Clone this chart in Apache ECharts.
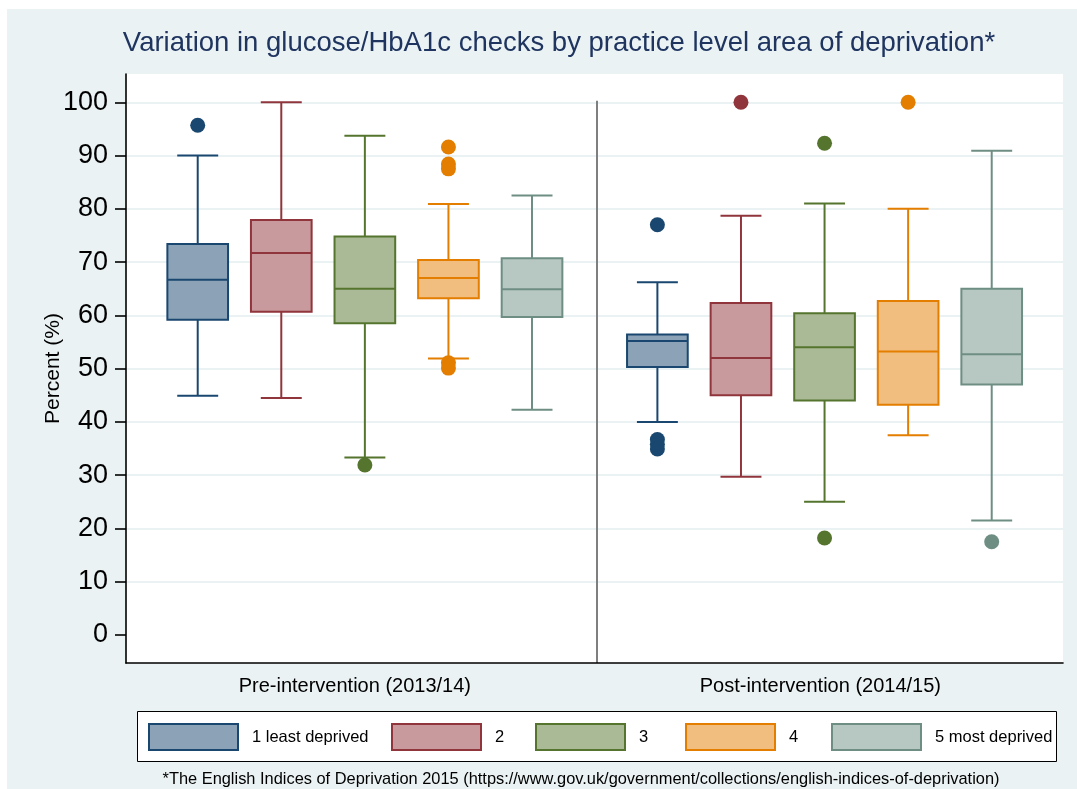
<!DOCTYPE html>
<html>
<head>
<meta charset="utf-8">
<script src="https://cdn.jsdelivr.net/npm/echarts@6/dist/echarts.min.js"></script>
<style>
  html, body { margin: 0; padding: 0; background: #fff; }
  #boxChart { width: 1077px; height: 789px; }
</style>
</head>
<body>
<div id="boxChart"></div>
<script>
// periods on the x axis
var periods = ['Pre-intervention (2013/14)', 'Post-intervention (2014/15)'];
var levels = ['1 least deprived', '2', '3', '4', '5 most deprived'];
var yTicks = [0, 10, 20, 30, 40, 50, 60, 70, 80, 90, 100];

// [lower whisker, Q1, median, Q3, upper whisker] -> pre, post
var level1Box = [[44.9, 59.2, 66.7, 73.4, 90.0], [40.0, 50.3, 55.2, 56.4, 66.2]];
var level2Box = [[44.5, 60.7, 71.7, 77.9, 100.0], [29.7, 45.0, 52.0, 62.3, 78.7]];
var level3Box = [[33.3, 58.5, 65.0, 74.8, 93.7], [25.0, 44.0, 54.0, 60.4, 81.0]];
var level4Box = [[51.9, 63.2, 67.0, 70.4, 80.9], [37.5, 43.2, 53.2, 62.7, 80.0]];
var level5Box = [[42.3, 59.7, 64.9, 70.7, 82.5], [21.5, 47.0, 52.7, 65.0, 90.9]];

// outside values -> pre, post
var level1Out = [[95.7], [77.0, 36.7, 35.8, 34.9]];
var level2Out = [[], [100.0]];
var level3Out = [[31.9], [92.3, 18.2]];
var level4Out = [[91.6, 88.4, 87.5, 51.1, 50.1], [100.0]];
var level5Out = [[], [17.5]];

var boxes = [level1Box, level2Box, level3Box, level4Box, level5Box];
var outs = [level1Out, level2Out, level3Out, level4Out, level5Out];
var lineColors = ['#1a476f', '#90353b', '#55752f', '#e37e00', '#6e8e84'];
var fillColors = ['#8ca3b7', '#c89a9d', '#aaba97', '#f1be80', '#b7c7c2'];
var groupStart = [1, 6.5];
var labelPos = [2.88, 8.45];
var legendLeft = [148, 391, 535, 685, 831];

var sans = "'Liberation Sans', Arial, sans-serif";

function renderBox(params, api) {
  var x = api.value(0);
  var lo = api.coord([x, api.value(1)]);
  var q1 = api.coord([x, api.value(2)]);
  var md = api.coord([x, api.value(3)]);
  var q3 = api.coord([x, api.value(4)]);
  var hi = api.coord([x, api.value(5)]);
  var unit = api.size([1, 0])[0];
  var hb = unit * 0.363; // half box width
  var hc = unit * 0.245; // half cap width
  var c = lineColors[params.seriesIndex - 1];
  var f = fillColors[params.seriesIndex - 1];
  var ls = { stroke: c, lineWidth: 2 };
  return {
    type: 'group',
    children: [
      { type: 'line', shape: { x1: hi[0], y1: hi[1], x2: q3[0], y2: q3[1] }, style: ls },
      { type: 'line', shape: { x1: q1[0], y1: q1[1], x2: lo[0], y2: lo[1] }, style: ls },
      { type: 'line', shape: { x1: hi[0] - hc, y1: hi[1], x2: hi[0] + hc, y2: hi[1] }, style: ls },
      { type: 'line', shape: { x1: lo[0] - hc, y1: lo[1], x2: lo[0] + hc, y2: lo[1] }, style: ls },
      { type: 'rect', shape: { x: q3[0] - hb, y: q3[1], width: hb * 2, height: q1[1] - q3[1] },
        style: { fill: f, stroke: c, lineWidth: 2 } },
      { type: 'line', shape: { x1: md[0] - hb, y1: md[1], x2: md[0] + hb, y2: md[1] }, style: ls }
    ]
  };
}

// gridlines + group divider
var series = [{
  type: 'line',
  data: [],
  silent: true,
  z: 1,
  markLine: {
    silent: true,
    z: 0,
    symbol: 'none',
    label: { show: false },
    data: yTicks.filter(function (v) { return v > 0; }).map(function (v) {
      return { yAxis: v, lineStyle: { color: '#eaf2f3', width: 2, type: 'solid' } };
    }).concat([[
      { coord: [5.78, 100.3], lineStyle: { color: '#7f7f7f', width: 2, type: 'solid' } },
      { coord: [5.78, -5.26] }
    ]])
  }
}];

levels.forEach(function (name, i) {
  var boxData = boxes[i].map(function (b, g) {
    return [groupStart[g] + i].concat(b);
  });
  series.push({
    name: name,
    type: 'custom',
    z: 2,
    renderItem: renderBox,
    encode: { x: 0, y: [1, 2, 3, 4, 5] },
    itemStyle: { color: fillColors[i], borderColor: lineColors[i], borderWidth: 2 },
    data: boxData
  });
});

levels.forEach(function (name, i) {
  var pts = [];
  outs[i].forEach(function (vals, g) {
    vals.forEach(function (v) { pts.push([groupStart[g] + i, v]); });
  });
  series.push({
    name: name,
    type: 'scatter',
    z: 3,
    symbol: 'circle',
    symbolSize: 15,
    itemStyle: { color: lineColors[i], opacity: 1 },
    data: pts
  });
});

// one legend per key so the columns sit where Stata puts them
var legends = levels.map(function (n, i) {
  return {
    left: legendLeft[i],
    top: 723,
    padding: 0,
    itemWidth: 89,
    itemHeight: 26,
    selectedMode: false,
    data: [{ name: n, icon: 'rect', itemStyle: { color: fillColors[i], borderColor: lineColors[i], borderWidth: 2 } }],
    textStyle: { color: '#000', fontSize: 16.5, fontFamily: sans, padding: [0, 0, 0, 9] }
  };
});

var myChart = echarts.init(document.getElementById('boxChart'), null, { renderer: 'canvas' });
var option = {
  backgroundColor: '#fff',
  animation: false,
  graphic: [
    { type: 'rect', z: -100, shape: { x: 7, y: 9, width: 1070, height: 780 }, style: { fill: '#eaf2f3' } },
    { type: 'rect', z: -50, shape: { x: 137.5, y: 711.5, width: 919, height: 50 }, style: { fill: '#fff', stroke: '#000', lineWidth: 1 } },
    { type: 'text', x: 559, y: 29, style: {
      text: 'Variation in glucose/HbA1c checks by practice level area of deprivation*',
      fill: '#1f3560', font: '27.5px ' + sans, textAlign: 'center' } },
    { type: 'text', x: 581, y: 771, style: {
      text: '*The English Indices of Deprivation 2015 (https://www.gov.uk/government/collections/english-indices-of-deprivation)',
      fill: '#000', font: '16.4px ' + sans, textAlign: 'center' } }
  ],
  grid: { left: 126, right: 14, top: 74, bottom: 126, show: true, backgroundColor: '#fff', borderWidth: 0 },
  legend: legends,
  xAxis: {
    type: 'value',
    min: 0.142,
    max: 11.353,
    splitLine: { show: false },
    axisLine: { show: true, onZero: false, lineStyle: { color: '#000', width: 1.6 } },
    axisTick: { show: false },
    axisLabel: {
      customValues: labelPos,
      margin: 13,
      color: '#000',
      fontSize: 20,
      fontFamily: sans,
      formatter: function (v) { return Math.abs(v - labelPos[0]) < 0.5 ? periods[0] : periods[1]; }
    }
  },
  yAxis: {
    type: 'value',
    min: -5.26,
    max: 105.31,
    name: 'Percent (%)',
    nameLocation: 'middle',
    nameGap: 62,
    nameMoveOverlap: false,
    nameTextStyle: { color: '#000', fontSize: 21, fontFamily: sans },
    splitLine: { show: false },
    axisLine: { show: true, onZero: false, lineStyle: { color: '#000', width: 1.6 } },
    axisTick: { show: true, customValues: yTicks, length: 11, lineStyle: { color: '#000', width: 1.6 } },
    axisLabel: { customValues: yTicks, margin: 18, color: '#000', fontSize: 27, fontFamily: sans }
  },
  series: series
};
myChart.setOption(option);
</script>
</body>
</html>
